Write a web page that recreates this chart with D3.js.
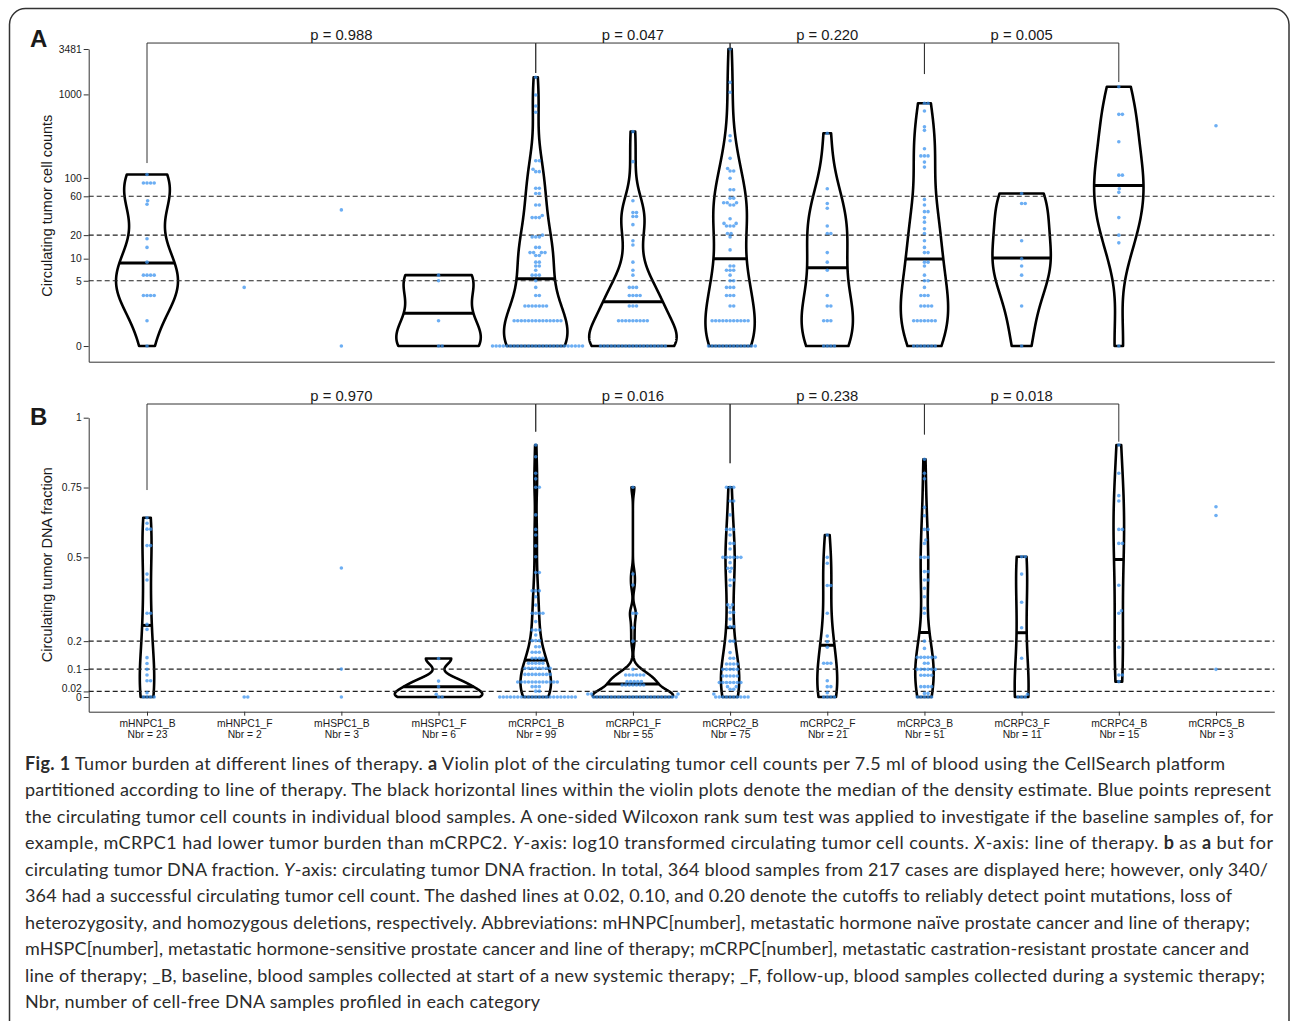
<!DOCTYPE html>
<html>
<head>
<meta charset="utf-8">
<script src="https://cdn.jsdelivr.net/npm/d3@7"></script>
<style>
  body { margin: 0; background: #fff; }
  svg { display: block; }
  text { font-family: "Liberation Sans", Arial, sans-serif; fill: #1a1a1a; }
  .caption text { font-family: Lato, Roboto, sans-serif; fill: #2b2b2b; white-space: pre; }
</style>
</head>
<body>
<script>
var width = 1290,
  height = 1021;

var categories = ["mHNPC1_B", "mHNPC1_F", "mHSPC1_B", "mHSPC1_F", "mCRPC1_B", "mCRPC1_F",
  "mCRPC2_B", "mCRPC2_F", "mCRPC3_B", "mCRPC3_F", "mCRPC4_B", "mCRPC5_B"];
var sampleCounts = [23, 2, 3, 6, 99, 55, 75, 21, 51, 11, 15, 3];

// circulating tumor cell counts, [count, number of samples] per category
var ctcCounts = [
  [[0, 1], [1, 1], [3, 4], [6, 4], [9, 1], [14, 1], [18, 1], [48, 1], [53, 1], [87, 4], [110, 1]],
  [[4, 1]],
  [[0, 1], [41, 1]],
  [[0, 2], [1, 1], [5, 1], [6, 1]],
  [[0, 26], [1, 14], [2, 7], [3, 2], [4, 1], [5, 1], [6, 3], [7, 1], [8, 2], [9, 2], [11, 2], [12, 4], [14, 2], [19, 3], [20, 1], [33, 3], [35, 1], [47, 2], [65, 2], [75, 2], [119, 2], [127, 1], [161, 2], [611, 1], [727, 1], [983, 1], [1600, 1]],
  [[0, 19], [1, 9], [2, 3], [3, 4], [4, 3], [6, 1], [7, 1], [9, 1], [15, 1], [17, 1], [27, 1], [34, 2], [38, 2], [53, 1], [157, 1], [359, 1]],
  [[0, 14], [1, 11], [2, 2], [3, 3], [4, 3], [5, 2], [6, 1], [7, 3], [8, 2], [13, 1], [19, 1], [21, 2], [26, 3], [28, 2], [32, 1], [47, 2], [50, 3], [57, 2], [72, 2], [99, 1], [121, 2], [130, 1], [172, 1], [279, 1], [321, 1], [1059, 1], [1393, 1], [3481, 1]],
  [[0, 4], [1, 3], [2, 2], [3, 1], [7, 1], [9, 1], [12, 1], [21, 2], [26, 1], [43, 1], [49, 1], [74, 1], [343, 1]],
  [[0, 7], [1, 7], [2, 4], [3, 3], [4, 1], [5, 2], [6, 1], [8, 1], [9, 2], [12, 2], [14, 1], [17, 1], [21, 1], [24, 1], [29, 1], [33, 1], [39, 2], [47, 1], [55, 1], [135, 1], [155, 1], [184, 3], [224, 1], [372, 1], [411, 1], [633, 1], [783, 2]],
  [[0, 1], [2, 1], [6, 1], [8, 1], [10, 1], [17, 1], [49, 2], [65, 1]],
  [[0, 1], [16, 1], [20, 1], [33, 1], [67, 1], [74, 1], [108, 2], [272, 1], [578, 2], [1235, 1]],
  [[423, 1]]
];

// circulating tumor DNA fraction, [fraction, number of samples] per category
var ctdnaFractions = [
  [[0, 4], [0.015, 1], [0.058, 2], [0.079, 1], [0.099, 1], [0.12, 1], [0.141, 1], [0.242, 1], [0.26, 1], [0.3, 2], [0.419, 1], [0.44, 1], [0.542, 2], [0.601, 2], [0.622, 1], [0.642, 1]],
  [[0, 2]],
  [[0, 1], [0.1, 1], [0.462, 1]],
  [[0, 2], [0.01, 1], [0.037, 1], [0.057, 1], [0.138, 1]],
  [[0, 22], [0.021, 2], [0.037, 3], [0.054, 12], [0.081, 8], [0.103, 8], [0.121, 5], [0.139, 4], [0.16, 3], [0.18, 2], [0.202, 3], [0.222, 1], [0.24, 3], [0.27, 1], [0.3, 4], [0.329, 1], [0.359, 1], [0.38, 3], [0.446, 2], [0.502, 1], [0.541, 1], [0.58, 1], [0.6, 1], [0.652, 1], [0.751, 2], [0.781, 1], [0.801, 1], [0.86, 1], [0.902, 1]],
  [[0, 24], [0.011, 3], [0.043, 7], [0.055, 5], [0.079, 6], [0.099, 1], [0.2, 1], [0.248, 1], [0.3, 2], [0.401, 1], [0.44, 1], [0.751, 1]],
  [[0, 10], [0.011, 1], [0.028, 2], [0.037, 2], [0.052, 7], [0.075, 5], [0.099, 5], [0.118, 4], [0.139, 2], [0.159, 1], [0.2, 2], [0.252, 2], [0.279, 1], [0.303, 2], [0.32, 1], [0.33, 2], [0.399, 1], [0.419, 2], [0.449, 1], [0.461, 2], [0.481, 1], [0.5, 6], [0.53, 1], [0.55, 2], [0.58, 1], [0.6, 3], [0.652, 1], [0.702, 2], [0.751, 3]],
  [[0, 4], [0.015, 1], [0.037, 2], [0.058, 1], [0.121, 3], [0.178, 1], [0.198, 1], [0.218, 1], [0.3, 1], [0.399, 2], [0.479, 1], [0.5, 1], [0.58, 1]],
  [[0, 5], [0.013, 2], [0.037, 4], [0.078, 4], [0.099, 6], [0.121, 2], [0.142, 6], [0.174, 1], [0.2, 1], [0.3, 1], [0.318, 1], [0.359, 1], [0.389, 1], [0.419, 2], [0.449, 2], [0.5, 3], [0.55, 1], [0.562, 1], [0.6, 2], [0.649, 1], [0.679, 1], [0.781, 1], [0.801, 1], [0.851, 1]],
  [[0, 3], [0.01, 1], [0.139, 1], [0.248, 1], [0.339, 1], [0.44, 1], [0.502, 2]],
  [[0.055, 1], [0.079, 2], [0.178, 1], [0.3, 1], [0.309, 1], [0.4, 1], [0.55, 2], [0.6, 2], [0.702, 1], [0.721, 1], [0.801, 1], [0.902, 1]],
  [[0.099, 1], [0.65, 1], [0.681, 1]]
];

var ctcTicks = [0, 5, 10, 20, 60, 100, 1000, 3481];
var ctdnaTicks = [0, 0.02, 0.1, 0.2, 0.5, 0.75, 1];
var ctcCutoffs = [5, 20, 60];
var ctdnaCutoffs = [0.02, 0.1, 0.2];

// Wilcoxon comparisons between baseline groups
var comparisons = [["mHNPC1_B", "mCRPC1_B"], ["mCRPC1_B", "mCRPC2_B"], ["mCRPC2_B", "mCRPC3_B"], ["mCRPC3_B", "mCRPC4_B"]];
var ctcPValues = ["0.988", "0.047", "0.220", "0.005"];
var ctdnaPValues = ["0.970", "0.016", "0.238", "0.018"];
var bracketGroups = ["mHNPC1_B", "mCRPC1_B", "mCRPC2_B", "mCRPC3_B", "mCRPC4_B"];
var ctcBracketTop = 4100;
var ctcLegEnds = [151, 1800, 3500, 1750, 1405];
var ctdnaBracketTop = 1.049;
var ctdnaLegEnds = [0.741, 0.95, 0.837, 0.94, 0.914];

var captionLines = [
  [["Fig. 1", "b"], [" Tumor burden at different lines of therapy. "], ["a", "b"], [" Violin plot of the circulating tumor cell counts per 7.5 ml of blood using the CellSearch platform"]],
  [["partitioned according to line of therapy. The black horizontal lines within the violin plots denote the median of the density estimate. Blue points represent"]],
  [["the circulating tumor cell counts in individual blood samples. A one-sided Wilcoxon rank sum test was applied to investigate if the baseline samples of, for"]],
  [["example, mCRPC1 had lower tumor burden than mCRPC2. "], ["Y", "i"], ["-axis: log10 transformed circulating tumor cell counts. "], ["X", "i"], ["-axis: line of therapy. "], ["b", "b"], [" as "], ["a", "b"], [" but for"]],
  [["circulating tumor DNA fraction. "], ["Y", "i"], ["-axis: circulating tumor DNA fraction. In total, 364 blood samples from 217 cases are displayed here; however, only 340/"]],
  [["364 had a successful circulating tumor cell count. The dashed lines at 0.02, 0.10, and 0.20 denote the cutoffs to reliably detect point mutations, loss of"]],
  [["heterozygosity, and homozygous deletions, respectively. Abbreviations: mHNPC[number], metastatic hormone naïve prostate cancer and line of therapy;"]],
  [["mHSPC[number], metastatic hormone-sensitive prostate cancer and line of therapy; mCRPC[number], metastatic castration-resistant prostate cancer and"]],
  [["line of therapy; _B, baseline, blood samples collected at start of a new systemic therapy; _F, follow-up, blood samples collected during a systemic therapy;"]],
  [["Nbr, number of cell-free DNA samples profiled in each category"]]
];
var captionEnds = [1225, 1271, 1273, 1273, 1268, 1232, 1250, 1249, 1265, 540];

var svg = d3.select("body").append("svg")
  .attr("width", width)
  .attr("height", height);

// frame round the figure
svg.append("rect")
  .attr("x", 9.5).attr("y", 8.5)
  .attr("width", 1279.5).attr("height", 1100)
  .attr("rx", 16)
  .attr("fill", "none")
  .attr("stroke", "#333")
  .attr("stroke-width", 1.5);

var x = d3.scalePoint()
  .domain(categories)
  .range([88.7, 1274.3])
  .padding(0.6);

var log1p = function (v) { return Math.log10(v + 1); };
var identity = function (v) { return v; };

var yA = d3.scaleLinear().domain([-0.187, log1p(3481)]).range([361.7, 49]);
var yB = d3.scaleLinear().domain([-0.0526, 1]).range([711.7, 417.7]);

// R's bw.nrd0
function bandwidth(v) {
  var hi = d3.deviation(v),
    lo = Math.min(hi, (d3.quantile(v, 0.75) - d3.quantile(v, 0.25)) / 1.34);
  if (!lo) lo = hi || Math.abs(v[0]) || 1;
  return 0.9 * lo * Math.pow(v.length, -0.2);
}

// gaussian density, trimmed to the data range
function density(v) {
  var bw = bandwidth(v), lo = d3.min(v), hi = d3.max(v);
  return d3.range(512).map(function (i) {
    var t = lo + (hi - lo) * i / 511;
    var s = d3.sum(v, function (d) { var z = (t - d) / bw; return Math.exp(-0.5 * z * z); });
    return [t, s / (v.length * bw * Math.sqrt(2 * Math.PI))];
  });
}

function densityMedian(dens) {
  var cum = Array.from(d3.cumsum(dens, function (d) { return d[1]; })),
    target = 0.5 * cum[cum.length - 1],
    i = d3.bisectLeft(cum, target);
  if (i === 0) return dens[0];
  var t = (target - cum[i - 1]) / (cum[i] - cum[i - 1]);
  return [dens[i - 1][0] + t * (dens[i][0] - dens[i - 1][0]), dens[i - 1][1] + t * (dens[i][1] - dens[i - 1][1])];
}

// simple swarm layout, points placed in ascending order
function swarm(ys, cx, d) {
  var placed = [];
  ys.forEach(function (py) {
    var near = placed.filter(function (p) { return Math.abs(p[1] - py) < d; });
    var cands = [0];
    near.forEach(function (p) {
      var dx = Math.sqrt(d * d - (p[1] - py) * (p[1] - py));
      cands.push(p[0] + dx, p[0] - dx);
    });
    cands.sort(function (a, b) { return Math.abs(a) - Math.abs(b) || b - a; });
    var best = cands.find(function (c) {
      return near.every(function (p) { return (p[0] - c) * (p[0] - c) + (p[1] - py) * (p[1] - py) >= d * d - 0.01; });
    });
    placed.push([best, py]);
  });
  return placed.map(function (p) { return [cx + p[0], p[1]]; });
}

function expand(pairs) {
  var out = [];
  pairs.forEach(function (p) { for (var k = 0; k < p[1]; k++) out.push(p[0]); });
  return out.sort(d3.ascending);
}

function drawPanel(o) {
  var g = svg.append("g");
  var y = o.y;

  var groups = categories.map(function (c, i) {
    var raw = expand(o.values[i]);
    var t = raw.map(o.f);
    return { name: c, raw: raw, t: t, dens: t.length >= 5 ? density(t) : null };
  });

  var maxDens = d3.max(groups, function (d) { return d.dens ? d3.max(d.dens, function (e) { return e[1]; }) : 0; });
  var w = d3.scaleLinear().domain([0, maxDens]).range([0, 0.45 * x.step()]);

  // axes
  g.append("g")
    .attr("transform", "translate(" + x.range()[0] + ",0)")
    .call(d3.axisLeft(y)
      .tickValues(o.ticks.map(o.f))
      .tickFormat(function (d, i) { return o.ticks[i]; })
      .tickSize(5).tickSizeOuter(0).tickPadding(2))
    .call(function (a) {
      a.selectAll("path, line").attr("stroke", "#333");
      a.selectAll("text").attr("font-size", 10.3).attr("font-family", "Liberation Sans, Arial, sans-serif").attr("fill", "#222");
      // lift the 0.02 label off the 0 label, as in the source figure
      a.selectAll(".tick text").filter(function (d, i) { return o.ticks[i] === 0.02; }).attr("y", -3);
    });

  var xa = g.append("g")
    .attr("transform", "translate(0," + y.range()[0] + ")")
    .call(d3.axisBottom(x).tickSize(o.xLabels ? 4 : 0).tickSizeOuter(0).tickPadding(3.5));
  xa.selectAll("path, line").attr("stroke", "#333");
  xa.selectAll("text").attr("font-size", 10.3).attr("font-family", "Liberation Sans, Arial, sans-serif").attr("fill", "#222");
  if (o.xLabels) {
    xa.selectAll(".tick text").text(null)
      .selectAll("tspan")
      .data(function (d) { return [d, "Nbr = " + sampleCounts[categories.indexOf(d)]]; })
      .enter().append("tspan")
      .attr("x", 0)
      .attr("dy", function (d, i) { return i ? "1.12em" : "0.71em"; })
      .text(function (d) { return d; });
  } else {
    xa.selectAll(".tick text").remove();
  }

  // violins
  var area = d3.area()
    .curve(d3.curveLinear)
    .y(function (d) { return y(d[0]); });

  groups.filter(function (d) { return d.dens; }).forEach(function (d) {
    var cx = x(d.name);
    g.append("path")
      .datum(d.dens)
      .attr("d", area.x0(function (e) { return cx - w(e[1]); }).x1(function (e) { return cx + w(e[1]); }))
      .attr("fill", "none")
      .attr("stroke", "#000")
      .attr("stroke-width", 2.6)
      .attr("stroke-linejoin", "round");
    var m = densityMedian(d.dens);
    g.append("line")
      .attr("x1", cx - w(m[1])).attr("x2", cx + w(m[1]))
      .attr("y1", y(m[0])).attr("y2", y(m[0]))
      .attr("stroke", "#000")
      .attr("stroke-width", 3);
  });

  // cutoff lines
  g.selectAll(".cutoff")
    .data(o.cutoffs)
    .enter().append("line")
    .attr("x1", x.range()[0]).attr("x2", x.range()[1])
    .attr("y1", function (d) { return y(o.f(d)); })
    .attr("y2", function (d) { return y(o.f(d)); })
    .attr("stroke", "#222")
    .attr("stroke-width", 1.1)
    .attr("stroke-dasharray", "5,3");

  // points
  groups.forEach(function (d) {
    var pts = swarm(d.t.map(y), x(d.name), 3.6);
    g.selectAll(null)
      .data(pts)
      .enter().append("circle")
      .attr("cx", function (p) { return p[0]; })
      .attr("cy", function (p) { return p[1]; })
      .attr("r", 1.8)
      .attr("fill", "#3b93ef")
      .attr("fill-opacity", 0.75);
  });

  // brackets
  var line = d3.line();
  comparisons.forEach(function (c, i) {
    var x0 = x(c[0]), x1 = x(c[1]), top = y(o.f(o.bracketTop));
    g.append("path")
      .attr("d", line([
        [x0, y(o.f(o.legEnds[bracketGroups.indexOf(c[0])]))], [x0, top],
        [x1, top], [x1, y(o.f(o.legEnds[bracketGroups.indexOf(c[1])]))]
      ]))
      .attr("fill", "none")
      .attr("stroke", "#333")
      .attr("stroke-width", 1);
    g.append("text")
      .attr("x", (x0 + x1) / 2)
      .attr("y", top - 3)
      .attr("text-anchor", "middle")
      .attr("font-size", 14.8)
      .text("p = " + o.pValues[i]);
  });

  // titles
  g.append("text")
    .attr("transform", "translate(52," + o.titleY + ") rotate(-90)")
    .attr("text-anchor", "middle")
    .attr("font-size", 14.5)
    .text(o.title);

  g.append("text")
    .attr("x", 30).attr("y", o.letterY)
    .attr("font-size", 24)
    .attr("font-weight", "bold")
    .attr("fill", "#000")
    .text(o.letter);
}

drawPanel({
  values: ctcCounts, y: yA, f: log1p, ticks: ctcTicks, cutoffs: ctcCutoffs,
  pValues: ctcPValues, bracketTop: ctcBracketTop, legEnds: ctcLegEnds,
  xLabels: false, title: "Circulating tumor cell counts", titleY: 205.7, letter: "A", letterY: 47
});

drawPanel({
  values: ctdnaFractions, y: yB, f: identity, ticks: ctdnaTicks, cutoffs: ctdnaCutoffs,
  pValues: ctdnaPValues, bracketTop: ctdnaBracketTop, legEnds: ctdnaLegEnds,
  xLabels: true, title: "Circulating tumor DNA fraction", titleY: 564.7, letter: "B", letterY: 425
});

// caption
var cap = svg.append("g").attr("class", "caption");
captionLines.forEach(function (segs, i) {
  var t = cap.append("text")
    .attr("x", 25)
    .attr("y", 769.5 + i * 26.55)
    .attr("font-size", 18)
    .attr("textLength", captionEnds[i] - 25)
    .attr("lengthAdjust", "spacing");
  segs.forEach(function (s) {
    t.append("tspan")
      .attr("font-weight", s[1] === "b" ? "bold" : null)
      .attr("font-style", s[1] === "i" ? "italic" : null)
      .text(s[0]);
  });
});
</script>
</body>
</html>
